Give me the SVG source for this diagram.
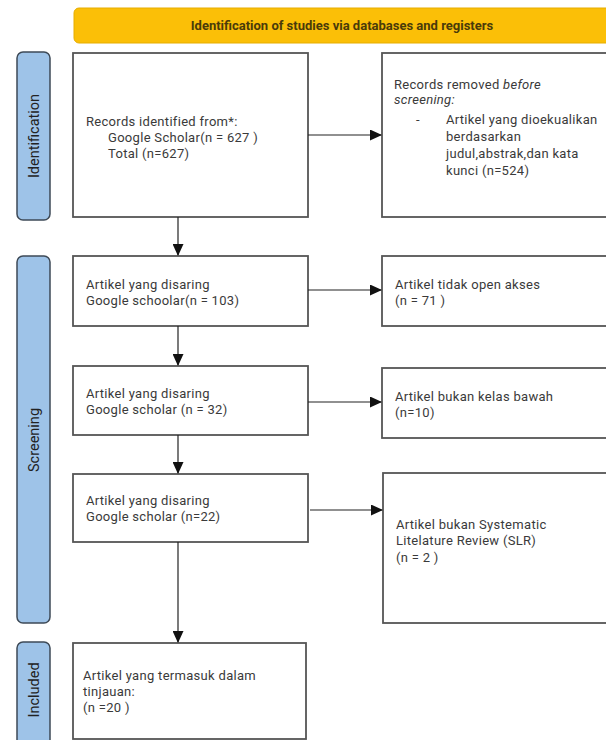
<svg xmlns="http://www.w3.org/2000/svg" width="606" height="740" viewBox="0 0 606 740">
<defs>
<style>
.bg{fill:#ffffff}
.hdr{fill:#fbbf07;stroke:#e6ad00;stroke-width:1}
.hdrt{font-family:Roboto,"Liberation Sans",sans-serif;font-size:13px;font-weight:bold;fill:#4a3b0a;text-anchor:middle}
.side{fill:#9ec3e8;stroke:#3e4a57;stroke-width:1.5}
.sidet{font-family:Roboto,"Liberation Sans",sans-serif;font-size:14.5px;fill:#222;text-anchor:middle}
.box{fill:#ffffff;stroke:#555;stroke-width:1.8}
.t{font-family:Roboto,"Liberation Sans",sans-serif;font-size:13px;letter-spacing:0.3px;fill:#3a3a3a}
.ln{stroke:#222;stroke-width:1.2;fill:none}
</style>
<marker id="ah" markerWidth="12" markerHeight="11" refX="11" refY="5.5" orient="auto" markerUnits="userSpaceOnUse">
<path d="M0,0 L12,5.5 L0,11 z" fill="#111"/>
</marker>
</defs>
<rect class="bg" x="0" y="0" width="606" height="740"/>

<g id="header">
<rect class="hdr" x="74" y="8" width="545" height="35" rx="5"/>
<text class="hdrt" x="342" y="30">Identification of studies via databases and registers</text>
</g>

<g id="side-identification">
<rect class="side" x="17" y="52" width="33" height="168" rx="6"/>
<text class="sidet" transform="translate(39,136) rotate(-90)">Identification</text>
</g>
<g id="side-screening">
<rect class="side" x="17" y="256" width="33" height="367" rx="6"/>
<text class="sidet" transform="translate(39,440) rotate(-90)">Screening</text>
</g>
<g id="side-included">
<rect class="side" x="17" y="642" width="33" height="106" rx="6"/>
<text class="sidet" transform="translate(39,690) rotate(-90)">Included</text>
</g>

<g id="records-identified">
<rect class="box" x="73" y="53" width="235" height="164"/>
<text class="t" x="86" y="125.5">Records identified from*:</text>
<text class="t" x="108" y="141.5">Google Scholar(n = 627 )</text>
<text class="t" x="108" y="157.5">Total (n=627)</text>
</g>

<g id="records-removed">
<rect class="box" x="382" y="53" width="240" height="164"/>
<text class="t" x="394" y="88.5">Records removed <tspan font-style="italic">before</tspan></text>
<text class="t" x="394" y="104" font-style="italic">screening:</text>
<text class="t" x="416" y="123.5">-</text>
<text class="t" x="446" y="123.5">Artikel yang dioekualikan</text>
<text class="t" x="446" y="140.5">berdasarkan</text>
<text class="t" x="446" y="157.5">judul,abstrak,dan kata</text>
<text class="t" x="446" y="174.5">kunci (n=524)</text>
</g>

<g id="screen-1">
<rect class="box" x="73" y="256" width="235" height="70"/>
<text class="t" x="86" y="288.5">Artikel yang disaring</text>
<text class="t" x="86" y="304.5">Google schoolar(n = 103)</text>
</g>

<g id="excluded-1">
<rect class="box" x="382" y="256" width="240" height="70"/>
<text class="t" x="395" y="288.5">Artikel tidak open akses</text>
<text class="t" x="395" y="304.5">(n = 71 )</text>
</g>

<g id="screen-2">
<rect class="box" x="73" y="366" width="235" height="69"/>
<text class="t" x="86" y="397.5">Artikel yang disaring</text>
<text class="t" x="86" y="413.5">Google scholar (n = 32)</text>
</g>

<g id="excluded-2">
<rect class="box" x="382" y="368" width="240" height="70"/>
<text class="t" x="395" y="400.5">Artikel bukan kelas bawah</text>
<text class="t" x="395" y="416.5">(n=10)</text>
</g>

<g id="screen-3">
<rect class="box" x="73" y="474" width="235" height="68"/>
<text class="t" x="86" y="504.5">Artikel yang disaring</text>
<text class="t" x="86" y="520.5">Google scholar (n=22)</text>
</g>

<g id="excluded-3">
<rect class="box" x="383" y="473" width="240" height="150"/>
<text class="t" x="396" y="528.5">Artikel bukan Systematic</text>
<text class="t" x="396" y="545">Litelature Review (SLR)</text>
<text class="t" x="396" y="561.5">(n = 2 )</text>
</g>

<g id="included">
<rect class="box" x="73" y="643" width="233" height="96"/>
<text class="t" x="83" y="679.5">Artikel yang termasuk dalam</text>
<text class="t" x="83" y="695.5">tinjauan:</text>
<text class="t" x="83" y="711.5">(n =20 )</text>
</g>

<g id="connectors">
<line class="ln" x1="178" y1="217" x2="178" y2="255" marker-end="url(#ah)"/>
<line class="ln" x1="178" y1="326" x2="178" y2="365" marker-end="url(#ah)"/>
<line class="ln" x1="178" y1="435" x2="178" y2="473" marker-end="url(#ah)"/>
<line class="ln" x1="178" y1="542" x2="178" y2="642" marker-end="url(#ah)"/>
<line class="ln" x1="308" y1="135" x2="381" y2="135" marker-end="url(#ah)"/>
<line class="ln" x1="308" y1="290" x2="381" y2="290" marker-end="url(#ah)"/>
<line class="ln" x1="308" y1="402" x2="381" y2="402" marker-end="url(#ah)"/>
<line class="ln" x1="310" y1="510" x2="382" y2="510" marker-end="url(#ah)"/>
</g>
</svg>
